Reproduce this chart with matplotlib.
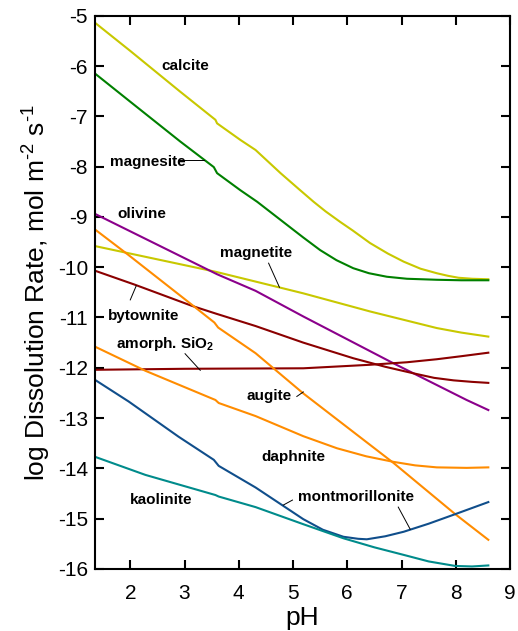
import matplotlib
matplotlib.use('Agg')
import matplotlib.pyplot as plt

plt.rcParams['font.family'] = ['Liberation Sans', 'DejaVu Sans']
plt.rcParams['axes.unicode_minus'] = False
plt.rcParams['mathtext.fontset'] = 'custom'
plt.rcParams['mathtext.rm'] = 'Liberation Sans'
plt.rcParams['mathtext.bf'] = 'Liberation Sans:bold'

# ── data (pH, log rate) ───────────────────────────────────────────────────────
calcite_ph  = [1.35, 2.0, 2.92, 3.57, 3.60, 4.03, 4.31, 4.77, 5.1, 5.38, 5.6, 5.87, 6.1, 6.42, 6.75,
               7.04, 7.35, 7.65, 7.85, 8.05, 8.3, 8.6]
calcite_val = [-5.14, -5.70, -6.51, -7.07, -7.14, -7.47, -7.67, -8.13, -8.44, -8.70, -8.89, -9.10, -9.27,
               -9.52, -9.73, -9.89, -10.03, -10.12, -10.17, -10.21, -10.23, -10.24]

magnesite_ph  = [1.35, 2.0, 2.92, 3.54, 3.60, 4.03, 4.34, 5.01, 5.19, 5.50, 5.80, 6.11, 6.40, 6.73,
                 7.10, 7.65, 8.1, 8.6]
magnesite_val = [-6.15, -6.71, -7.50, -8.01, -8.13, -8.47, -8.70, -9.26, -9.41, -9.66, -9.86, -10.02,
                 -10.12, -10.19, -10.23, -10.25, -10.26, -10.26]

magnetite_ph  = [1.35, 3.57, 4.74, 5.19, 6.42, 7.65, 8.1, 8.6]
magnetite_val = [-9.58, -10.09, -10.40, -10.52, -10.88, -11.21, -11.30, -11.38]

olivine_ph  = [1.35, 3.60, 4.31, 5.19, 6.85, 8.20, 8.6]
olivine_val = [-8.94, -10.14, -10.47, -10.98, -11.91, -12.64, -12.84]

bytownite_ph  = [1.35, 2.09, 3.14, 3.57, 4.31, 5.19, 6.11, 6.7, 7.22, 7.6, 7.96, 8.3, 8.6]
bytownite_val = [-10.07, -10.35, -10.77, -10.92, -11.17, -11.50, -11.81, -11.98, -12.11, -12.20,
                 -12.25, -12.28, -12.30]

sio2_ph  = [1.35, 3.0, 5.19, 6.42, 7.1, 7.65, 8.1, 8.6]
sio2_val = [-12.04, -12.02, -12.01, -11.94, -11.89, -11.83, -11.77, -11.70]

augite_ph  = [1.35, 1.97, 3.14, 3.55, 3.62, 4.31, 5.19, 6.85, 7.99, 8.6]
augite_val = [-9.25, -9.76, -10.75, -11.10, -11.20, -11.71, -12.51, -13.89, -14.91, -15.42]

daphnite_ph  = [1.35, 2.28, 3.57, 3.63, 4.31, 5.19, 5.81, 6.35, 6.85, 7.25, 7.65, 8.2, 8.6]
daphnite_val = [-11.58, -12.06, -12.64, -12.70, -12.96, -13.36, -13.60, -13.76, -13.87, -13.94,
                -13.98, -13.99, -13.98]

montmor_ph  = [1.35, 1.97, 2.89, 3.54, 3.63, 4.31, 5.19, 5.55, 5.93, 6.2, 6.36, 6.7, 7.04, 7.5,
               7.99, 8.6]
montmor_val = [-12.24, -12.67, -13.37, -13.83, -13.95, -14.38, -15.01, -15.22, -15.36, -15.40,
               -15.41, -15.35, -15.26, -15.10, -14.91, -14.67]

kaolinite_ph  = [1.35, 2.28, 3.57, 3.63, 4.31, 5.19, 5.93, 6.5, 7.04, 7.5, 7.99, 8.3, 8.6]
kaolinite_val = [-13.77, -14.13, -14.53, -14.56, -14.77, -15.11, -15.39, -15.57, -15.72, -15.85,
                 -15.94, -15.95, -15.93]

x_ticks = [2, 3, 4, 5, 6, 7, 8, 9]
y_ticks = [-5, -6, -7, -8, -9, -10, -11, -12, -13, -14, -15, -16]

YELLOW = '#c8c800'
GREEN  = '#008000'
PURPLE = '#8b008b'
DRED   = '#8b0000'
ORANGE = '#ff8c00'
BLUE   = '#104e8b'
TEAL   = '#008b8b'

series = [
    (calcite_ph,   calcite_val,   YELLOW),
    (magnesite_ph, magnesite_val, GREEN),
    (magnetite_ph, magnetite_val, YELLOW),
    (olivine_ph,   olivine_val,   PURPLE),
    (bytownite_ph, bytownite_val, DRED),
    (sio2_ph,      sio2_val,      DRED),
    (augite_ph,    augite_val,    ORANGE),
    (daphnite_ph,  daphnite_val,  ORANGE),
    (montmor_ph,   montmor_val,   BLUE),
    (kaolinite_ph, kaolinite_val, TEAL),
]

# label text, position, leader lines (start, end)
labels = [
    ('calcite',        3.01, -6.00,  []),
    ('magnesite',      2.33, -7.91,  [((2.90, -7.87), (3.35, -7.87))]),
    ('olivine',        2.22, -8.95,  []),
    ('magnetite',      4.31, -9.72,  [((4.55, -9.92), (4.75, -10.40))]),
    ('bytownite',      2.25, -10.97, [((2.00, -10.65), (2.11, -10.37))]),
    ('amorph. SiO$_\\mathbf{2}$', 2.65, -11.53, [((3.01, -11.72), (3.29, -12.05))]),
    ('augite',         4.55, -12.57, [((5.07, -12.57), (5.19, -12.48))]),
    ('daphnite',       5.01, -13.77, []),
    ('kaolinite',      2.57, -14.63, []),
    ('montmorillonite', 6.16, -14.57, [((4.99, -14.63), (4.82, -14.73)),
                                       ((6.94, -14.77), (7.16, -15.21))]),
]

fig = plt.figure(figsize=(5.18, 6.31), dpi=100)
ax = fig.add_axes([0.1834, 0.0983, 0.8012, 0.8768])

for xs, ys, c in series:
    ax.plot(xs, ys, color=c, linewidth=1.5, solid_joinstyle='round')

for txt, x, y, leaders in labels:
    ax.text(x, y, txt, ha='center', va='center', fontsize=11, fontweight='bold')
    for (x0, y0), (x1, y1) in leaders:
        ax.plot([x0, x1], [y0, y1], color='black', linewidth=0.7)

ax.set_xlim(1.35, 9)
ax.set_ylim(-16, -5)
ax.set_xticks(x_ticks)
ax.set_yticks(y_ticks)
ax.tick_params(direction='in', length=6.5, width=1.5, top=True, right=True,
               labelsize=15)
ax.tick_params(axis='x', pad=11)
ax.tick_params(axis='y', pad=5)
for spine in ax.spines.values():
    spine.set_linewidth(1.5)

ax.set_xlabel('pH', fontsize=19, labelpad=2)
ax.set_ylabel('log Dissolution Rate, mol m$^{\\text{-2}}$ s$^{\\text{-1}}$', fontsize=19, labelpad=4)

fig.savefig('out.png', dpi=100)
